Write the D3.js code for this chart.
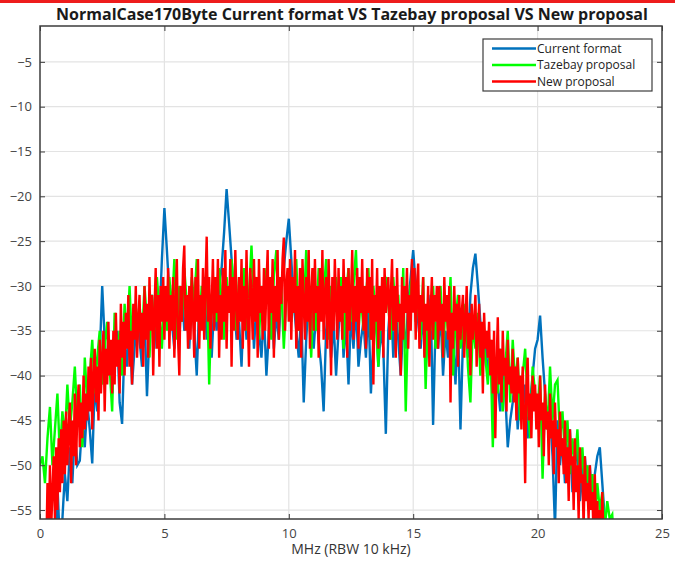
<!DOCTYPE html>
<html>
<head>
<meta charset="utf-8">
<script src="https://cdn.jsdelivr.net/npm/d3@7"></script>
<style>
  html, body { margin: 0; padding: 0; background: #fff; }
  svg { display: block; font-family: "Open Sans", "DejaVu Sans", sans-serif; }
</style>
</head>
<body>
<div id="chart"></div>
<script>
var width = 675;
var height = 561;

// spectrum samples in dB; blue and green every 0.1 MHz, red every 0.05 MHz
var freqStep = 0.1;
var newFreqStep = 0.05;

var currentFormat = [
  -65, -64, -63, -62, -60, -58, -61, -52, -59, -56,
  -51, -54, -48, -52, -46, -50, -49.5, -45, -48, -43,
  -46, -49.8, -41, -44, -38, -30, -36, -40, -37, -42,
  -38, -35, -43, -45.4, -36, -39, -34, -41, -37, -33,
  -36, -39, -33, -42.3, -35, -31, -37, -30, -34, -27,
  -21.3, -26, -31, -34, -37, -32, -36, -30, -35, -33,
  -37, -31, -35, -40, -32, -34, -29, -36, -33, -38,
  -32, -35, -30, -28, -24, -19.2, -23, -27, -31, -36,
  -34, -39, -31, -36, -33, -30, -37, -32, -35, -38,
  -33, -40, -35, -31, -37, -33, -36, -30, -28, -25,
  -22.5, -27, -32, -35, -38, -33, -43, -36, -31, -34,
  -37, -33, -36, -39, -44, -35, -32, -38, -34, -40,
  -35, -31, -38, -34, -41, -33, -37, -32, -39, -36,
  -34, -38, -32, -42, -36, -33, -39, -35, -37, -46.5,
  -35, -31, -38, -33, -36, -40, -34, -37, -32, -29,
  -26, -30, -34, -37, -33, -39, -35, -31, -45.5, -34,
  -37, -33, -40, -35, -38, -32, -36, -41, -34, -46,
  -36, -33, -38, -31, -28, -26.4, -30, -34, -39, -36,
  -40, -37, -43, -39, -41, -44, -38, -42, -48, -45,
  -43, -40, -46, -42, -44, -41, -47, -43, -40, -37,
  -36, -33.3, -38, -42, -46, -44, -49, -57, -45, -50,
  -47, -52, -49, -46, -53, -50, -48, -54, -51, -49,
  -53, -50, -55, -51, -49, -48, -52, -56, -58, -57,
  -60, -62
];

var tazebayProposal = [
  -50, -49, -52, -47, -43.5, -50, -46, -42, -49, -44,
  -47, -41, -46, -43, -39, -45, -41, -48, -38, -43,
  -40, -36, -42, -38, -35, -41, -37, -34, -39, -44,
  -33, -38, -35, -40, -32, -36, -30, -37, -33, -35,
  -32, -36, -30, -34, -38, -31, -35, -29, -33, -37,
  -31, -35, -29, -33, -27, -36, -30, -34, -28, -32,
  -34, -29, -32, -27, -35, -30, -33, -28, -41, -31,
  -30, -34, -28, -32, -36, -29, -33, -27, -31, -35,
  -29, -33, -28, -35, -31, -25.5, -32, -29, -36, -30,
  -33, -28, -31, -36, -29, -26, -34, -30, -37, -31,
  -29, -34, -31, -27, -35, -30, -33, -26, -32, -38,
  -30, -35, -28, -33, -31, -27, -36, -30, -34, -29,
  -33, -29, -37, -31, -28, -34, -30, -26, -35, -31,
  -35, -31, -28, -36, -30, -34, -39, -31, -33, -29,
  -32, -36, -29, -34, -31, -37, -28, -44, -33, -30,
  -28, -34, -31, -36, -29, -41.5, -32, -35, -30, -37,
  -33, -30, -38, -32, -35, -29, -40, -34, -31, -37,
  -35, -32, -39, -43, -34, -37, -33, -40, -36, -38,
  -41, -36, -48, -38, -42, -37, -44, -39, -35, -43,
  -36, -41, -38, -45, -40, -37, -43, -47, -39, -42,
  -44, -40, -51.5, -42, -46, -39, -45, -41, -40.5, -47,
  -44, -49, -45, -51, -47, -50, -46, -52, -48, -53,
  -50, -54, -51, -56, -52, -55, -53, -57, -54, -56,
  -55.5, -60
];

var newProposal = [
  -66, -64, -63, -62, -61, -60, -52, -58, -50, -57, -53, -49, -56, -48, -55, -47, -53, -46, -52, -45,
  -51, -44, -50, -46, -43, -52, -45, -49, -42, -50, -44, -41, -48, -43, -47, -40, -46, -42, -45, -39,
  -44, -38, -46, -40, -37, -43, -39, -45, -36, -42, -38, -35, -44, -37, -41, -34, -40, -36, -42, -35,
  -41, -33, -39, -36, -42, -32, -38, -34, -40, -33, -37, -31, -39, -35, -41, -32, -36, -30, -38, -34,
  -31, -37, -33, -39, -30, -36, -32, -38, -29, -35, -31, -40, -33, -28, -37, -31, -39, -30, -34, -29,
  -36, -30, -34, -28, -37, -31, -35, -29, -38, -32, -27, -36, -40, -30, -34, -28, -25.5, -35, -31, -37,
  -30, -36, -28, -33, -38, -29, -34, -27, -37, -31, -35, -28, -36, -30, -24.5, -34, -29, -37, -32, -27,
  -35, -29, -33, -27, -38, -31, -36, -28, -34, -26, -37, -30, -33, -27, -39, -29, -35, -26, -32, -36,
  -29, -34, -27, -37, -30, -35, -26, -33, -39, -28, -31, -36, -27, -34, -29, -38, -27, -33, -30, -36,
  -28, -35, -30, -26, -37, -29, -33, -27, -38, -30, -34, -26, -36, -29, -32, -27, -24.6, -35, -30, -28,
  -34, -27, -36, -29, -33, -26, -37, -30, -35, -28, -38, -27, -32, -36, -29, -34, -26, -37, -31, -28,
  -35, -27, -33, -30, -38, -28, -34, -26, -36, -31, -29, -37, -27, -33, -40, -29, -35, -27, -32, -36,
  -28, -34, -30, -36, -27, -33, -29, -38, -28, -35, -31, -26, -36, -30, -34, -28, -37, -29, -33, -27,
  -35, -30, -37, -28, -33, -29, -36, -27, -41, -31, -34, -28, -37, -30, -35, -29, -38, -28, -33, -31,
  -29, -36, -31, -27, -35, -30, -38, -28, -34, -32, -40, -29, -36, -30, -33, -28, -37, -31, -35, -27,
  -33, -28, -36, -30, -27.5, -37, -31, -34, -29, -38, -32, -35, -30, -39, -33, -29, -36, -31, -34, -30,
  -37, -30, -35, -32, -38, -29, -34, -31, -36, -30, -43, -33, -37, -30, -35, -32, -39, -31, -36, -33,
  -31, -38, -34, -30, -37, -33, -40, -32, -36, -34, -31, -39, -35, -32, -38, -34, -42, -33, -37, -35,
  -38, -34, -40, -36, -42, -35, -47, -39, -33.5, -41, -37, -43, -35, -40, -38, -44, -36, -41, -39, -42,
  -37, -43, -39, -45, -38, -42, -40, -46, -39, -44, -52, -41, -38, -45, -42, -47, -40, -44, -41, -46,
  -42, -48, -40, -45, -43, -49, -41, -46, -44, -50, -42, -47, -45, -51, -43, -48, -46, -52, -44, -49,
  -47, -51, -45, -52, -48, -54, -46, -50, -49, -55, -47, -53, -50, -56, -48, -52, -51, -57, -49, -54,
  -52, -56, -50, -55, -53, -58, -51, -57, -54, -59, -55, -60, -53, -58, -56, -61, -57, -62, -59, -63,
  -64
];

var seriesNames = ["Current format", "Tazebay proposal", "New proposal"];
var seriesColors = ["#0072bd", "#00ff00", "#ff0000"];
var seriesSteps = [freqStep, freqStep, newFreqStep];
var xTicks = [0, 5, 10, 15, 20, 25];
var yTicks = [-5, -10, -15, -20, -25, -30, -35, -40, -45, -50, -55];

var margin = { top: 26, right: 13, bottom: 42, left: 40 };
var plotW = width - margin.left - margin.right;
var plotH = height - margin.top - margin.bottom;

var svg = d3.select("#chart")
    .append("svg")
    .attr("width", width)
    .attr("height", height);

// red rule across the top of the slide
svg.append("rect")
    .attr("x", 0).attr("y", 0)
    .attr("width", width).attr("height", 3)
    .attr("fill", "#ee1c1c");

svg.append("text")
    .attr("x", 352)
    .attr("y", 20)
    .attr("text-anchor", "middle")
    .style("font-size", "16px")
    .style("font-weight", "bold")
    .style("fill", "#1a1a1a")
    .text("NormalCase170Byte Current format VS Tazebay proposal VS New proposal");

var x = d3.scaleLinear().domain([0, 25]).range([0, plotW]);
var y = d3.scaleLinear().domain([-56, -1]).range([plotH, 0]);

var g = svg.append("g")
    .attr("transform", "translate(" + margin.left + "," + margin.top + ")");

g.append("clipPath").attr("id", "clip")
  .append("rect").attr("width", plotW).attr("height", plotH);

// grid
g.append("g").selectAll("line").data(xTicks.slice(1, -1)).enter()
  .append("line")
    .attr("x1", d => x(d)).attr("x2", d => x(d))
    .attr("y1", 0).attr("y2", plotH)
    .attr("stroke", "#e3e3e3").attr("stroke-width", 1.2);
g.append("g").selectAll("line").data(yTicks).enter()
  .append("line")
    .attr("x1", 0).attr("x2", plotW)
    .attr("y1", d => y(d)).attr("y2", d => y(d))
    .attr("stroke", "#e3e3e3").attr("stroke-width", 1.2);

// traces: blue first, red on top
var plotData = [currentFormat, tazebayProposal, newProposal];
g.append("g").attr("clip-path", "url(#clip)")
  .selectAll("path").data(plotData).enter()
  .append("path")
    .attr("d", (vals, k) => d3.line()
        .x((d, i) => x(i * seriesSteps[k]))
        .y(d => y(d))(vals))
    .attr("fill", "none")
    .attr("stroke", (d, i) => seriesColors[i])
    .attr("stroke-width", (d, i) => i == 2 ? 2.4 : 2.4)
    .attr("stroke-linejoin", "miter");

// axes, ticks pointing inward like matlab
var axisColor = "#3c3c3c";
var axLeft = g.append("g")
    .call(d3.axisLeft(y).tickValues(yTicks).tickSize(-5).tickPadding(8));
var axRight = g.append("g").attr("transform", "translate(" + plotW + ",0)")
    .call(d3.axisRight(y).tickValues(yTicks).tickSize(-5).tickFormat(""));
var axBottom = g.append("g").attr("transform", "translate(0," + plotH + ")")
    .call(d3.axisBottom(x).tickValues(xTicks).tickSize(-5).tickPadding(10));
var axTop = g.append("g")
    .call(d3.axisTop(x).tickValues(xTicks).tickSize(-5).tickFormat(""));

[axLeft, axRight, axBottom, axTop].forEach(function(ax) {
  ax.select(".domain").remove();
  ax.selectAll("line").attr("stroke", axisColor);
  ax.selectAll("text")
    .style("font-size", "13px")
    .style("fill", "#444")
    .style("font-family", "'Open Sans', sans-serif");
});
axLeft.selectAll("text").text(d => "\u2212" + Math.abs(d));

g.append("rect")
    .attr("width", plotW).attr("height", plotH)
    .attr("fill", "none")
    .attr("stroke", axisColor)
    .attr("stroke-width", 1.5);

svg.append("text")
    .attr("x", margin.left + plotW / 2)
    .attr("y", 554)
    .attr("text-anchor", "middle")
    .style("font-size", "14px")
    .style("fill", "#333")
    .text("MHz (RBW 10 kHz)");

// legend
var legend = svg.append("g").attr("transform", "translate(483,39)");
legend.append("rect")
    .attr("width", 169).attr("height", 52)
    .attr("fill", "#fff")
    .attr("stroke", axisColor)
    .attr("stroke-width", 1.2);
var item = legend.selectAll(".item").data(seriesNames).enter()
  .append("g").attr("class", "item")
    .attr("transform", (d, i) => "translate(0," + (9.5 + i * 16.5) + ")");
item.append("line")
    .attr("x1", 9).attr("x2", 53)
    .attr("stroke", (d, i) => seriesColors[i])
    .attr("stroke-width", 2.5);
item.append("text")
    .attr("x", 54).attr("dy", "0.35em")
    .style("font-size", "12px")
    .style("fill", "#222")
    .text(d => d);
</script>
</body>
</html>
